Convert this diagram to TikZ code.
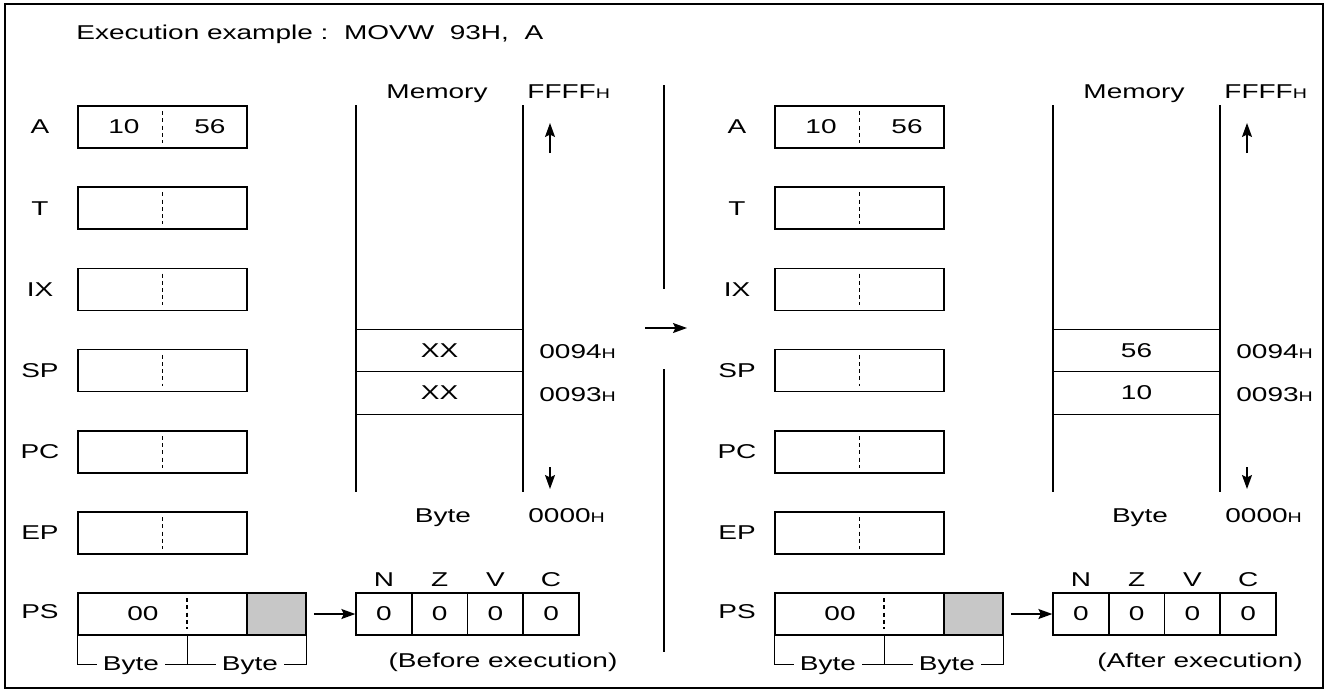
\documentclass[tikz,border=0pt]{standalone}
\usepackage{fontspec}
\setmainfont{Liberation Sans}[FakeStretch=1.4]
\usetikzlibrary{arrows.meta, positioning}

% small suffix letter for hex addresses
\newcommand{\subH}{{\fontsize{7}{8}\selectfont H}}

\begin{document}
\begin{tikzpicture}[
  x=0.5pt, y=-0.5pt,
  font=\fontsize{10}{12}\selectfont,
  every node/.style={inner sep=0pt, text depth=0pt},
  reg/.style={draw, line width=0.8pt, minimum width=84.5pt, minimum height=21pt},
  psreg/.style={draw, line width=0.8pt, minimum width=114pt, minimum height=21pt},
  flag/.style={draw, line width=0.8pt, minimum width=27.85pt, minimum height=21pt},
  memcell/.style={draw, line width=0.7pt, minimum width=83.5pt, minimum height=21.25pt},
  byte/.style={inner sep=3pt},
  divl/.style={dash pattern=on 2pt off 1.6pt, line width=0.6pt},
  arr/.style={-{Stealth[length=7pt, width=5pt, inset=1.2pt]}, line width=0.7pt},
  mem/.style={line width=0.7pt}
]
  \useasboundingbox (0,0) rectangle (1327,691);
  \draw[line width=1pt] (5,4) rectangle (1323,688);

  \node[anchor=west] (title) at (76,32) {Execution example :\ \ MOVW\ \ 93H,\ \ A};

  % before / after panels
  \foreach \p/\dx/\hi/\lo/\capt in {b/0/XX/XX/Before execution, f/697/56/10/After execution} {
  \begin{scope}[shift={(\dx,0)}]
    % registers
    \foreach \r [count=\i from 0] in {A,T,IX,SP,PC,EP} {
      \node[reg] (\p\r) at (162.5,127+81.2*\i) {};
      \node (\p\r-l) at (40,127+81.2*\i) {\r};
      \draw[divl] ([yshift=-3pt]\p\r.north) -- ([yshift=3pt]\p\r.south);
    }
    \node (\p a-hi) at (124,127) {10};
    \node (\p a-lo) at (210,127) {56};

    % PS register
    \node[psreg] (\p PS) at (192,614) {};
    \node[draw, line width=0.8pt, fill=black!22, minimum width=29.5pt, minimum height=21pt]
      (\p ccr) at (276.5,614) {};
    \node (\p PS-l) at (40,612) {PS};
    \node (\p ps-v) at (143,614) {00};
    \coordinate (\p mid) at (187,635);
    \draw[divl] ([yshift=-3pt]\p PS.north -| \p mid) -- ([yshift=3pt]\p mid);
    \node[byte] (\p by1) at (131,664) {Byte};
    \node[byte] (\p by2) at (250,664) {Byte};
    \draw (\p PS.south west) |- (\p by1.west);
    \draw (\p by1.east) -- (\p by2.west);
    \draw (\p mid) -- (\p mid |- \p by1.east);
    \draw (\p by2.east) -| (\p PS.south east);

    % flags
    \foreach \fl [count=\j from 0] in {N,Z,V,C} {
      \node[flag] (\p f\fl) at (384+55.7*\j,614) {0};
      \node (\p l\fl) at (384+55.7*\j,580) {\fl};
    }
    \draw[arr] ([xshift=3.5pt]\p ccr.east) -- (\p fN.west);
    \node (\p cap) at (503,660) {(\capt)};

    % memory
    \draw[mem] (356,105) -- (356,492);
    \draw[mem] (523,105) -- (523,492);
    \node[memcell] (\p m94) at (439.5,350.5) {\hi};
    \node[memcell] (\p m93) at (439.5,393) {\lo};
    \node (\p memt) at (437,92) {Memory};
    \node[anchor=west] (\p top) at (527,92) {FFFF\subH};
    \node[anchor=west] (\p a94) at (539,352) {0094\subH};
    \node[anchor=west] (\p a93) at (539,395) {0093\subH};
    \node (\p byt) at (443,516) {Byte};
    \node[anchor=west] (\p bot) at (528,516) {0000\subH};
    \coordinate (\p up0) at (550,153);
    \coordinate (\p up1) at (550,123);
    \coordinate (\p dn0) at (550,467);
    \coordinate (\p dn1) at (550,489);
    \draw[arr] (\p up0) -- (\p up1);
    \draw[arr] (\p dn0) -- (\p dn1);
  \end{scope}
  }

  % separator and transition arrow
  \draw[mem] (664,85) -- (664,289);
  \draw[mem] (664,369) -- (664,652);
  \coordinate (go0) at (645,328);
  \coordinate (go1) at (687,328);
  \draw[arr] (go0) -- (go1);
\end{tikzpicture}
\end{document}
